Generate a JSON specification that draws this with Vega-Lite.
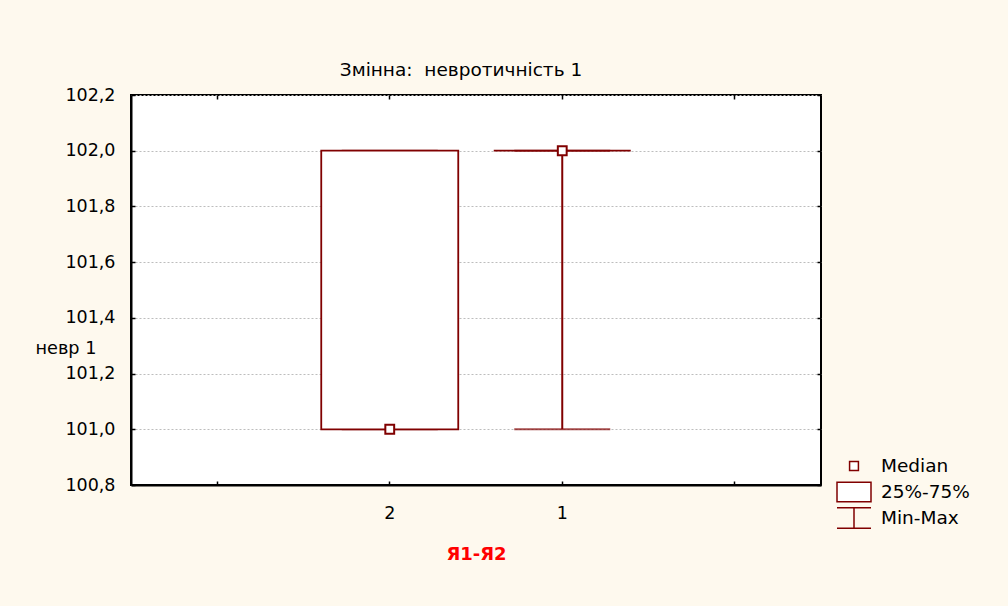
{
  "$schema": "https://vega.github.io/schema/vega-lite/v6.json",
  "autosize": {"type": "none"},
  "width": 690,
  "height": 390,
  "padding": {"left": 131, "top": 95, "right": 187, "bottom": 121},
  "background": "#fef9ee",
  "config": {
    "font": "DejaVu Sans",
    "locale": {"number": {"decimal": ",", "thousands": " ", "grouping": [3], "currency": ["", ""]}},
    "view": {"fill": "white", "stroke": "black", "strokeWidth": 2},
    "axis": {
      "labelFont": "DejaVu Sans",
      "labelFontSize": 17.5,
      "labelColor": "black",
      "domainColor": "black",
      "domainWidth": 2,
      "tickColor": "black",
      "tickWidth": 1.5,
      "tickSize": -4,
      "titleFont": "DejaVu Sans"
    },
    "legend": {
      "orient": "none",
      "legendX": 705,
      "legendY": 360,
      "padding": 0,
      "rowPadding": 4,
      "clipHeight": 22,
      "symbolSize": 1156,
      "labelFont": "DejaVu Sans",
      "labelFontSize": 18.5,
      "labelColor": "black",
      "labelOffset": 9
    }
  },
  "title": {
    "text": "Змінна:\u00a0 невротичність 1",
    "font": "DejaVu Sans",
    "fontSize": 18.5,
    "fontWeight": "normal",
    "color": "black",
    "anchor": "middle",
    "frame": "group",
    "baseline": "alphabetic",
    "dx": -15,
    "offset": -8
  },
  "data": {
    "values": [
      {"group": "2", "min": 101, "q1": 101, "median": 101, "q3": 102, "max": 102},
      {"group": "1", "min": 101, "q1": 102, "median": 102, "q3": 102, "max": 102}
    ]
  },
  "resolve": {"axis": {"x": "independent", "y": "independent"}},
  "layer": [
    {
      "mark": {"type": "rule", "color": "#800000", "strokeWidth": 2},
      "encoding": {
        "x": {
          "field": "group",
          "type": "nominal",
          "scale": {"type": "band", "domain": ["L", "2", "1", "R"], "paddingInner": 0, "paddingOuter": 0},
          "axis": {
            "orient": "bottom",
            "grid": false,
            "labelAngle": 0,
            "labelPadding": 23,
            "labelExpr": "datum.value == 'L' || datum.value == 'R' ? '' : datum.value",
            "title": "Я1-Я2",
            "titleColor": "#ff0000",
            "titleFontSize": 18,
            "titleFontWeight": "bold",
            "titlePadding": 24
          }
        },
        "y": {
          "field": "min",
          "type": "quantitative",
          "scale": {"domain": [100.8, 102.2], "nice": false, "zero": false},
          "axis": {
            "orient": "left",
            "values": [100.8, 101, 101.2, 101.4, 101.6, 101.8, 102, 102.2],
            "format": ".1f",
            "labelPadding": 20,
            "grid": true,
            "gridColor": "#bdbdbd",
            "gridDash": [2, 2],
            "gridWidth": 1,
            "title": "невр 1",
            "titleAngle": 0,
            "titleFontSize": 17.7,
            "titleFontWeight": "normal",
            "titleColor": "black",
            "titleAlign": "left",
            "titleBaseline": "middle",
            "titleX": -96,
            "titleY": 253
          }
        },
        "y2": {"field": "max"}
      }
    },
    {
      "mark": {"type": "tick", "orient": "horizontal", "color": "#800000", "size": 96, "thickness": 2},
      "encoding": {
        "x": {
          "field": "group",
          "type": "nominal",
          "axis": {"orient": "top", "grid": false, "labels": false, "title": null, "domain": false}
        },
        "y": {
          "field": "min",
          "type": "quantitative",
          "axis": {
            "orient": "right",
            "values": [100.8, 101, 101.2, 101.4, 101.6, 101.8, 102, 102.2],
            "grid": false,
            "labels": false,
            "domain": false,
            "title": null
          }
        }
      }
    },
    {
      "mark": {"type": "tick", "orient": "horizontal", "color": "#800000", "size": 96, "thickness": 2},
      "encoding": {
        "x": {"field": "group", "type": "nominal", "axis": null},
        "y": {"field": "max", "type": "quantitative", "axis": null}
      }
    },
    {
      "mark": {"type": "bar", "width": 137, "fill": "white", "stroke": "#800000", "strokeWidth": 1.8},
      "encoding": {
        "x": {"field": "group", "type": "nominal", "axis": null},
        "y": {"field": "q1", "type": "quantitative", "axis": null},
        "y2": {"field": "q3"}
      }
    },
    {
      "mark": {"type": "point", "filled": true, "fill": "white", "stroke": "#800000", "strokeWidth": 2, "size": 1156, "opacity": 1},
      "encoding": {
        "x": {"field": "group", "type": "nominal", "axis": null},
        "y": {"field": "median", "type": "quantitative", "axis": null},
        "shape": {
          "datum": "Median",
          "type": "nominal",
          "scale": {
            "domain": ["Median", "25%-75%", "Min-Max"],
            "range": [
              "M-0.26,-0.26H0.26V0.26H-0.26Z",
              "M-1,-0.57H1V0.57H-1Z",
              "M-1,-0.6H1M0,-0.6V0.6M-1,0.6H1"
            ]
          },
          "legend": {
            "title": null,
            "encode": {
              "symbols": {
                "update": {
                  "fill": {"value": "transparent"},
                  "stroke": {"value": "#800000"},
                  "strokeWidth": {"value": 2},
                  "opacity": {"value": 1}
                }
              }
            }
          }
        }
      }
    }
  ]
}
